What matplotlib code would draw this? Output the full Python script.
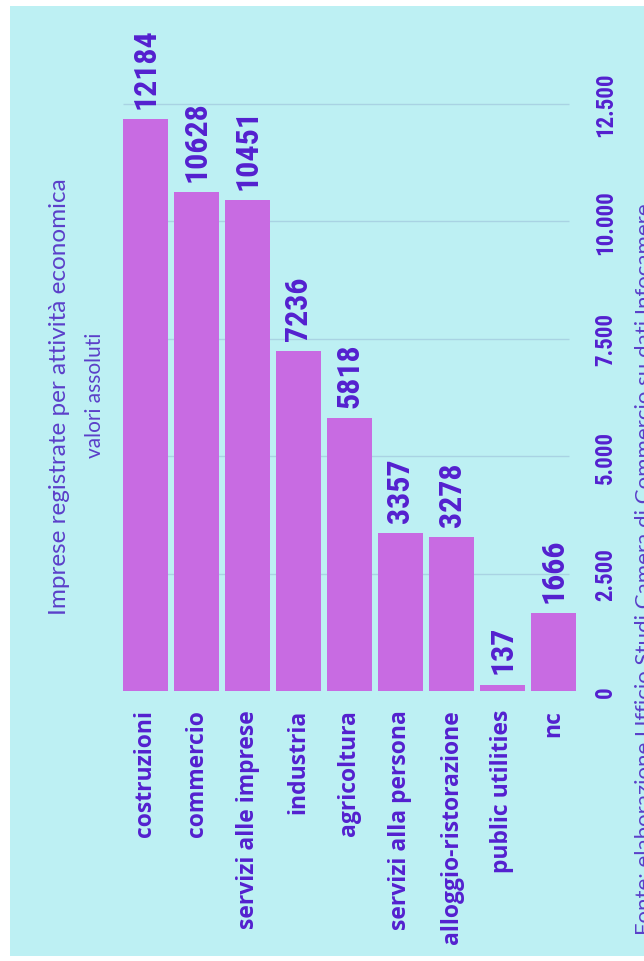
import numpy as np
import matplotlib
matplotlib.use("Agg")
import matplotlib.pyplot as plt
from matplotlib.patches import Rectangle

# dati: imprese registrate per attivita economica
categorie = ["costruzioni", "commercio", "servizi alle imprese", "industria",
             "agricoltura", "servizi alla persona", "alloggio-ristorazione",
             "public utilities", "nc"]
valori = [12184, 10628, 10451, 7236, 5818, 3357, 3278, 137, 1666]
tick_valori = [0, 2500, 5000, 7500, 10000, 12500]
tick_etichette = ["0", "2.500", "5.000", "7.500", "10.000", "12.500"]

sfondo = "#bdf0f3"
barra = "#c86be2"
viola = "#5420cf"
viola_titolo = "#5b3fc9"
griglia = "#a9d3e3"
num_font = ["Roboto Condensed", "DejaVu Sans Condensed", "Liberation Sans Narrow", "DejaVu Sans"]
lab_font = ["Open Sans", "DejaVu Sans"]

W, H = 644, 962
fig = plt.figure(figsize=(W / 100, H / 100), dpi=100, facecolor="white")
fig.patches.append(Rectangle((10 / W, 1 - 957 / H), 1, 950 / H,
                             transform=fig.transFigure, facecolor=sfondo,
                             edgecolor="none", zorder=-5))

# asse: 0 a y=692px, 12500 a y=105px
px_per_val = (692 - 105) / 12500
y_top = 13500
ax_bottom = 1 - 692 / H
ax_height = (y_top * px_per_val) / H
x0, x1 = -0.6, 8.6
ax_left = (145.5 + x0 * 51) / W
ax_width = (x1 - x0) * 51 / W
ax = fig.add_axes([ax_left, ax_bottom, ax_width, ax_height], zorder=2)
ax.set_facecolor("none")
ax.set_xlim(x0, x1)
ax.set_ylim(0, y_top)

x = np.arange(len(categorie))
ax.hlines(tick_valori[1:], -0.44, 8.3, color=griglia, lw=1, zorder=1)
bars = ax.bar(x, valori, width=0.88, color=barra, zorder=2)
ax.bar_label(bars, labels=[str(v) for v in valori], padding=8, rotation=90,
             color=viola, fontsize=23, fontweight="bold", family=num_font,
             fontstretch="condensed")

for s in ax.spines.values():
    s.set_visible(False)

ax.set_xticks(x)
ax.set_xticklabels(categorie, rotation=90, color=viola, fontsize=16.5,
                   fontweight="bold", family=lab_font)
ax.tick_params(axis="x", length=0, pad=13)

ax.yaxis.tick_right()
ax.set_yticks(tick_valori)
ax.set_yticklabels(tick_etichette, rotation=90, va="center", color=viola,
                   fontsize=16.5, fontweight="bold", family=num_font,
                   fontstretch="condensed")
ax.tick_params(axis="y", length=0, pad=7)

fig.text(60 / W, 1 - 397 / H, "Imprese registrate per attività economica",
         rotation=90, ha="center", va="center", color=viola_titolo,
         fontsize=17.5, family=["Lato", "DejaVu Sans"])
fig.text(95 / W, 1 - 395 / H, "valori assoluti", rotation=90, ha="center",
         va="center", color=viola_titolo, fontsize=15,
         family=["Lato", "DejaVu Sans"])
fig.text(645 / W, 1 - 935 / H,
         "Fonte: elaborazione Ufficio Studi Camera di Commercio su dati Infocamere",
         rotation=90, ha="center", va="bottom", color=viola_titolo,
         fontsize=16, family=["Lato", "DejaVu Sans"])

fig.savefig("out.png", dpi=100, facecolor="white")
